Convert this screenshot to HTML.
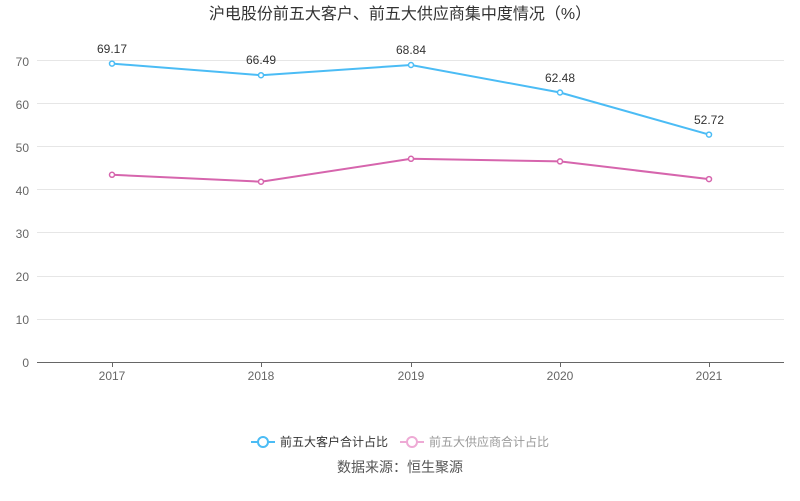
<!DOCTYPE html><html><head><meta charset="utf-8"><style>body{margin:0;background:#fff}svg{display:block}text{font-family:"Liberation Sans","Noto Sans CJK SC",sans-serif}</style></head><body>
<svg width="800" height="501" viewBox="0 0 800 501">
<text x="400" y="19" text-anchor="middle" font-size="16" fill="#333">沪电股份前五大客户、前五大供应商集中度情况（%）</text>
<g stroke="#e6e6e6" stroke-width="1">
<line x1="37" y1="60.5" x2="784" y2="60.5"/><line x1="37" y1="103.5" x2="784" y2="103.5"/><line x1="37" y1="146.5" x2="784" y2="146.5"/><line x1="37" y1="189.5" x2="784" y2="189.5"/><line x1="37" y1="232.5" x2="784" y2="232.5"/><line x1="37" y1="276.5" x2="784" y2="276.5"/><line x1="37" y1="319.5" x2="784" y2="319.5"/></g>
<line x1="37" y1="362.5" x2="784" y2="362.5" stroke="#666"/>
<g stroke="#666"><line x1="112.5" y1="362" x2="112.5" y2="367"/><line x1="261.5" y1="362" x2="261.5" y2="367"/><line x1="411.5" y1="362" x2="411.5" y2="367"/><line x1="560.5" y1="362" x2="560.5" y2="367"/><line x1="709.5" y1="362" x2="709.5" y2="367"/></g>
<g font-size="12" fill="#666" text-anchor="end"><text x="29" y="66">70</text><text x="29" y="109">60</text><text x="29" y="152">50</text><text x="29" y="195">40</text><text x="29" y="238">30</text><text x="29" y="281">20</text><text x="29" y="324">10</text><text x="29" y="367">0</text></g>
<g font-size="12" fill="#666" text-anchor="middle"><text x="112" y="380">2017</text><text x="261" y="380">2018</text><text x="411" y="380">2019</text><text x="560" y="380">2020</text><text x="709" y="380">2021</text></g>
<polyline points="112,63.6 261,75.2 411,65 560,92.5 709,134.6" fill="none" stroke="#4bbcf5" stroke-width="2"/>
<polyline points="112,174.8 261,181.7 411,158.8 560,161.4 709,179.1" fill="none" stroke="#d665ad" stroke-width="2"/>
<g fill="#fff" stroke="#4bbcf5" stroke-width="1.5"><circle cx="112" cy="63.6" r="2.5"/><circle cx="261" cy="75.2" r="2.5"/><circle cx="411" cy="65" r="2.5"/><circle cx="560" cy="92.5" r="2.5"/><circle cx="709" cy="134.6" r="2.5"/></g>
<g fill="#fff" stroke="#d665ad" stroke-width="1.5"><circle cx="112" cy="174.8" r="2.5"/><circle cx="261" cy="181.7" r="2.5"/><circle cx="411" cy="158.8" r="2.5"/><circle cx="560" cy="161.4" r="2.5"/><circle cx="709" cy="179.1" r="2.5"/></g>
<g font-size="12" fill="#333" text-anchor="middle"><text x="112" y="53">69.17</text><text x="261" y="64">66.49</text><text x="411" y="54">68.84</text><text x="560" y="82">62.48</text><text x="709" y="124">52.72</text></g>
<line x1="251" y1="442" x2="275" y2="442" stroke="#4bbcf5" stroke-width="2"/><circle cx="263" cy="442" r="5" fill="#fff" stroke="#4bbcf5" stroke-width="2"/>
<text x="280" y="446" font-size="12" fill="#333">前五大客户合计占比</text>
<line x1="400" y1="442" x2="424" y2="442" stroke="#eeaad5" stroke-width="2"/><circle cx="412" cy="442" r="5" fill="#fff" stroke="#eeaad5" stroke-width="2"/>
<text x="429" y="446" font-size="12" fill="#999">前五大供应商合计占比</text>
<text x="400" y="472" text-anchor="middle" font-size="14" fill="#555">数据来源：恒生聚源</text>
</svg></body></html>
